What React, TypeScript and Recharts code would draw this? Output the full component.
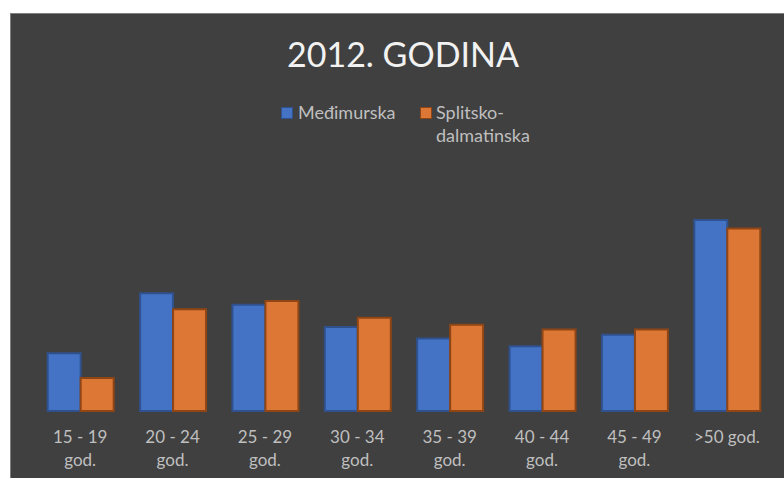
import React from 'react';
import { BarChart, Bar, XAxis, YAxis, Legend } from 'recharts';

const categories = ['15 - 19 god.', '20 - 24 god.', '25 - 29 god.', '30 - 34 god.', '35 - 39 god.', '40 - 44 god.', '45 - 49 god.', '>50 god.'];
const tickLines: string[][] = [
  ['15 - 19', 'god.'],
  ['20 - 24', 'god.'],
  ['25 - 29', 'god.'],
  ['30 - 34', 'god.'],
  ['35 - 39', 'god.'],
  ['40 - 44', 'god.'],
  ['45 - 49', 'god.'],
  ['>50 god.'],
];
const medimurska = [7.5, 15.3, 13.8, 10.9, 9.4, 8.4, 9.9, 24.8];
const splitsko = [4.3, 13.2, 14.3, 12.1, 11.2, 10.6, 10.6, 23.7];
const seriesNames = ['Međimurska', 'Splitsko-dalmatinska'];

const data = categories.map((c, i) => ({ name: c, idx: i, a: medimurska[i], b: splitsko[i] }));

const FONT = 'Lato, "Open Sans", sans-serif';
const BLUE = '#4472C4';
const BLUE_STROKE = '#2F528F';
const ORANGE = '#DC7735';
const ORANGE_STROKE = '#8F4514';

const Tick = (props: any) => {
  const { x, y, index } = props;
  const lines = tickLines[index] || [];
  return (
    <text x={x} y={y} textAnchor="middle" fill="#bfbfbf" fontFamily={FONT} fontSize={17}>
      {lines.map((l, i) => (
        <tspan key={i} x={x} y={y + 32 + i * 23}>{l}</tspan>
      ))}
    </text>
  );
};

const LegendContent = () => (
  <div style={{ position: 'relative', width: 300, height: 50, fontFamily: FONT, fontSize: 18, color: '#bfbfbf', lineHeight: '23px' }}>
    <div style={{ position: 'absolute', left: 0, top: 0, width: 10, height: 10, background: BLUE, border: `1px solid ${BLUE_STROKE}` }} />
    <div style={{ position: 'absolute', left: 17, top: -6, whiteSpace: 'nowrap' }}>{seriesNames[0]}</div>
    <div style={{ position: 'absolute', left: 139, top: 0, width: 10, height: 10, background: ORANGE, border: `1px solid ${ORANGE_STROKE}` }} />
    <div style={{ position: 'absolute', left: 155, top: -6, whiteSpace: 'nowrap' }}>
      <div>Splitsko-</div>
      <div>dalmatinska</div>
    </div>
  </div>
);

export default function App() {
  return (
    <div style={{ position: 'absolute', left: 0, top: 0, width: 784, height: 478, overflow: 'hidden', background: '#ffffff' }}>
      <div style={{ position: 'absolute', left: 10, top: 13, width: 800, height: 500, background: '#404040', borderTop: '1px solid #7f7f7f', borderLeft: '1px solid #7f7f7f', boxSizing: 'border-box' }} />
      <div style={{ position: 'absolute', left: 0, top: 32, width: 806, textAlign: 'center', fontFamily: FONT, fontSize: 34, color: '#f2f2f2', lineHeight: '44px' }}>
        2012. GODINA
      </div>
      <div style={{ position: 'absolute', left: 0, top: 0 }}>
        <BarChart width={784} height={478} data={data} margin={{ top: 180, right: 11, bottom: 17, left: 34 }} barCategoryGap="14.8%" barGap={0}>
          <XAxis dataKey="name" axisLine={false} tickLine={false} tickSize={0} tickMargin={0} height={50} interval={0} tick={<Tick />} />
          <YAxis hide domain={[0, 30]} />
          <Legend layout="vertical" align="center" verticalAlign="middle" content={<LegendContent />} wrapperStyle={{ position: 'absolute', left: 281, top: 107, width: 300, height: 50 }} />
          <Bar dataKey="a" name={seriesNames[0]} fill={BLUE} stroke={BLUE_STROKE} strokeWidth={2} isAnimationActive={false} />
          <Bar dataKey="b" name={seriesNames[1]} fill={ORANGE} stroke={ORANGE_STROKE} strokeWidth={2} isAnimationActive={false} />
        </BarChart>
      </div>
    </div>
  );
}
